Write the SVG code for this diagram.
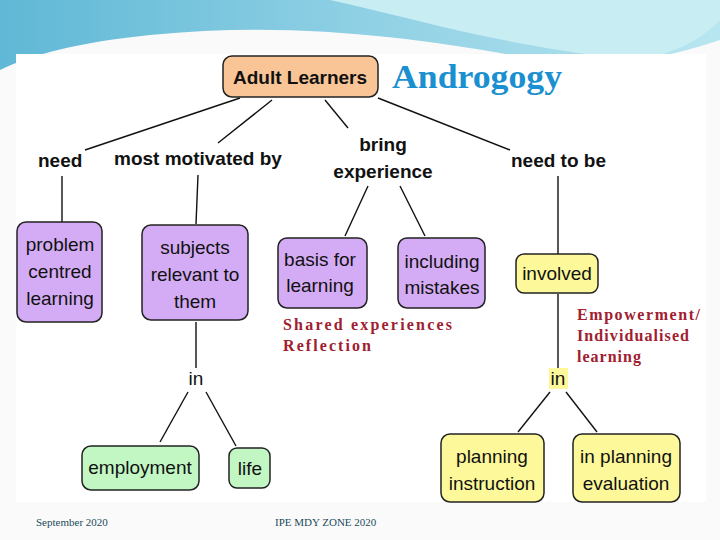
<svg xmlns="http://www.w3.org/2000/svg" width="720" height="540" viewBox="0 0 720 540">
<defs>
<linearGradient id="sky" x1="0" y1="0" x2="1" y2="0"><stop offset="0" stop-color="#5fb8d6"/><stop offset="0.5" stop-color="#8fd0e4"/><stop offset="1" stop-color="#b8e6f0"/></linearGradient>
<style>
.n{font-family:"Liberation Sans",Arial,sans-serif;font-size:19px;fill:#111}
.b{font-family:"Liberation Sans",Arial,sans-serif;font-size:19px;font-weight:bold;fill:#111}
.s{font-family:"Liberation Serif","Times New Roman",serif;font-size:16px;font-weight:bold;fill:#a02030}
.f{font-family:"Liberation Serif","Times New Roman",serif;font-size:11px;fill:#1a4a5a}
.p{fill:#d4acf5;stroke:#222;stroke-width:1.5}
.y{fill:#fdf99a;stroke:#222;stroke-width:1.5}
.g{fill:#c2f7c4;stroke:#222;stroke-width:1.5}
#c line{stroke:#111;stroke-width:1.4}
</style>
</defs>
<rect width="720" height="540" fill="#fafafa"/>
<path d="M0 0H720V40C660 60 600 70 540 60C430 40 300 20 150 35C80 42 30 55 0 70Z" fill="url(#sky)"/>
<path d="M330 0C420 20 500 45 620 58C670 60 700 40 720 20V0Z" fill="#c8eef4"/>
<rect x="16" y="54" width="690" height="448" fill="#ffffff"/>
<g id="c">
<line x1="240" y1="98" x2="85" y2="150"/><line x1="272" y1="100" x2="218" y2="143"/>
<line x1="325" y1="100" x2="348" y2="128"/><line x1="378" y1="98" x2="510" y2="150"/>
<line x1="62" y1="176" x2="62" y2="222"/><line x1="198" y1="175" x2="196" y2="224"/>
<line x1="368" y1="186" x2="345" y2="236"/><line x1="400" y1="186" x2="425" y2="236"/>
<line x1="558" y1="176" x2="558" y2="254"/>
<line x1="196" y1="322" x2="196" y2="368"/><line x1="558" y1="294" x2="558" y2="368"/>
<line x1="188" y1="392" x2="160" y2="442"/><line x1="206" y1="392" x2="236" y2="446"/>
<line x1="550" y1="392" x2="518" y2="432"/><line x1="566" y1="392" x2="597" y2="432"/>
</g>
<g id="root"><rect x="223" y="56" width="155" height="41" rx="9" fill="#f9c597" stroke="#222" stroke-width="1.5"/><text class="b" x="300" y="84" text-anchor="middle">Adult Learners</text></g>
<text x="392" y="88" font-family="Liberation Serif,serif" font-size="33" font-weight="bold" fill="#1a90d0" textLength="170" lengthAdjust="spacingAndGlyphs">Androgogy</text>
<g id="l1"><text class="b" x="38" y="167">need</text></g>
<g id="l2"><text class="b" x="114" y="165">most motivated by</text></g>
<g id="l3"><text class="b" x="383" y="151" text-anchor="middle">bring</text><text class="b" x="383" y="178" text-anchor="middle">experience</text></g>
<g id="l4"><text class="b" x="511" y="167">need to be</text></g>
<g id="pcl"><rect class="p" x="17" y="222" width="85" height="100" rx="9"/><text class="n" x="60" y="251" text-anchor="middle">problem</text><text class="n" x="60" y="278" text-anchor="middle">centred</text><text class="n" x="60" y="305" text-anchor="middle">learning</text></g>
<g id="srt"><rect class="p" x="142" y="225" width="106" height="95" rx="9"/><text class="n" x="195" y="254" text-anchor="middle">subjects</text><text class="n" x="195" y="281" text-anchor="middle">relevant to</text><text class="n" x="195" y="308" text-anchor="middle">them</text></g>
<g id="bfl"><rect class="p" x="278" y="238" width="89" height="70" rx="9"/><text class="n" x="320" y="266" text-anchor="middle">basis for</text><text class="n" x="320" y="292" text-anchor="middle">learning</text></g>
<g id="im"><rect class="p" x="398" y="238" width="87" height="70" rx="9"/><text class="n" x="442" y="268" text-anchor="middle">including</text><text class="n" x="442" y="294" text-anchor="middle">mistakes</text></g>
<g id="inv"><rect class="y" x="516" y="254" width="82" height="39" rx="8"/><text class="n" x="557" y="280" text-anchor="middle">involved</text></g>
<text class="s" x="283" y="330" textLength="169">Shared  experiences</text><text class="s" x="283" y="351" textLength="88">Reflection</text>
<text class="s" x="577" y="320" textLength="123">Empowerment/</text><text class="s" x="577" y="341" textLength="112">Individualised</text><text class="s" x="577" y="362" textLength="64">learning</text>
<g id="in1"><text class="n" x="196" y="385" text-anchor="middle" font-size="18">in</text></g>
<g id="in2"><rect x="549" y="368" width="19" height="21" fill="#fdf99a"/><text class="n" x="558" y="385" text-anchor="middle" font-size="18">in</text></g>
<g id="emp"><rect class="g" x="82" y="446" width="117" height="44" rx="9"/><text class="n" x="140" y="474" text-anchor="middle">employment</text></g>
<g id="life"><rect class="g" x="229" y="448" width="41" height="40" rx="8"/><text class="n" x="250" y="475" text-anchor="middle">life</text></g>
<g id="pi"><rect class="y" x="441" y="434" width="103" height="68" rx="9"/><text class="n" x="492" y="463" text-anchor="middle">planning</text><text class="n" x="492" y="490" text-anchor="middle">instruction</text></g>
<g id="pe"><rect class="y" x="573" y="434" width="107" height="68" rx="9"/><text class="n" x="626" y="463" text-anchor="middle">in planning</text><text class="n" x="626" y="490" text-anchor="middle">evaluation</text></g>
<text class="f" x="36" y="526">September 2020</text><text class="f" x="275" y="526">IPE MDY ZONE  2020</text>
</svg>
